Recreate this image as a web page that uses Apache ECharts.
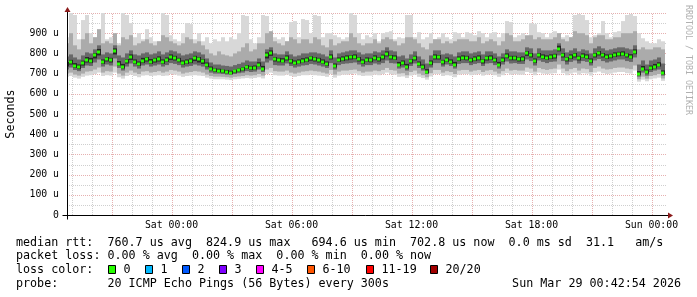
<!DOCTYPE html>
<html><head><meta charset="utf-8">
<script src="https://cdn.jsdelivr.net/npm/echarts@6/dist/echarts.min.js"></script>
<style>html,body{margin:0;padding:0;background:#fff}#c{width:697px;height:297px}</style>
</head><body><div id="c"></div>
<script>
// time axis: hours relative to Sat 00:00; buckets of 12 minutes starting Fri 18:40
const START_HOUR = -5 - 20 / 60;
const STEP_HOURS = 0.2;

const medianRtt = [
745,755,738,732,752,768,764,790,808,757,
770,765,811,750,734,760,781,757,748,764,
770,758,765,772,757,768,781,775,766,753,
758,762,775,770,760,742,725,717,715,712,
708,705,712,718,722,733,728,730,745,725,
790,802,770,766,764,778,760,752,758,764,
768,775,770,765,758,748,783,738,768,772,
778,780,783,770,758,768,766,778,770,782,
798,780,778,745,752,735,760,775,748,733,
710,752,782,780,756,768,758,745,772,778,
776,766,772,777,760,775,778,766,745,768,
788,776,776,770,772,800,790,762,790,783,
778,783,785,824,790,770,783,790,775,788,
783,762,790,800,790,783,786,792,796,798,
790,784,808,700,725,708,728,735,745,703];

const maxRtt = [
880,1000,990,870,965,990,900,880,900,1000,
870,880,860,850,1000,990,950,880,900,870,
920,880,860,860,1000,990,890,870,860,900,
950,945,870,900,860,880,850,870,860,880,
860,880,870,900,990,985,870,850,880,990,
985,900,880,870,880,860,955,960,880,970,
965,900,990,985,880,900,900,890,880,870,
880,1000,990,900,870,890,880,900,860,900,
905,910,870,880,875,990,990,880,905,870,
880,900,870,880,900,880,870,905,900,880,
905,900,890,910,900,880,900,905,880,900,
960,955,880,890,900,880,950,945,905,900,
880,900,910,900,880,890,880,990,995,990,
965,880,890,900,960,900,880,905,910,960,
990,995,985,900,875,860,850,850,870,860];

const p90Rtt = [
850,900,840,820,870,900,850,880,920,850,
860,850,900,840,880,870,890,840,850,860,
870,850,840,860,890,880,860,850,840,850,
880,870,850,860,840,820,800,790,810,795,
790,785,800,810,830,850,810,820,850,850,
900,910,860,850,840,860,880,870,850,870,
870,850,880,870,840,830,870,840,850,860,
860,900,880,850,840,850,850,870,850,870,
880,870,860,840,850,880,880,870,850,830,
820,850,870,870,850,860,850,860,870,870,
870,860,860,880,850,860,870,860,840,860,
900,890,860,860,870,890,890,870,880,870,
870,870,880,900,870,860,880,910,900,900,
890,850,880,890,890,870,870,880,880,900,
900,900,910,820,830,820,820,830,830,820];

const p75Rtt = [
785,795,780,770,790,805,800,820,840,795,
805,800,840,790,780,800,815,795,790,800,
805,795,800,810,795,805,815,810,800,790,
795,800,810,805,795,775,755,745,745,740,
738,735,742,748,755,765,760,760,775,760,
820,830,800,795,795,810,795,785,790,800,
800,805,805,800,795,785,815,780,800,805,
810,815,815,805,795,800,800,810,805,815,
830,815,810,785,790,775,795,810,785,770,
750,790,815,815,795,800,795,785,805,810,
810,800,805,810,795,810,810,800,785,800,
820,810,810,805,805,830,825,800,825,815,
815,815,820,850,825,805,815,825,810,820,
815,800,825,835,825,815,820,825,830,830,
825,820,840,745,765,745,765,770,780,750];

const p60Rtt = [
758,768,752,745,764,782,778,802,822,770,
782,778,825,762,748,772,795,770,760,778,
782,772,778,785,770,780,795,788,778,765,
770,775,788,782,772,755,735,726,724,720,
718,714,720,726,732,742,738,740,756,738,
805,815,782,778,776,790,772,765,770,776,
780,786,782,778,770,760,795,750,780,785,
790,792,795,782,770,780,778,790,782,794,
810,792,790,758,765,748,772,788,760,745,
722,765,795,792,768,780,770,758,785,790,
788,778,785,790,772,788,790,778,758,780,
800,788,788,782,785,812,802,775,802,795,
790,795,798,838,802,782,795,802,788,800,
795,775,802,812,802,795,798,805,808,810,
800,796,820,712,738,720,740,748,756,716];

const p40Rtt = [
735,745,728,722,740,755,752,775,790,748,
760,755,795,740,725,750,768,748,738,752,
760,748,755,760,748,758,768,765,756,744,
748,752,762,755,748,732,715,708,706,704,
700,698,704,710,714,724,718,720,735,716,
775,788,760,756,755,765,750,744,750,755,
758,764,760,755,748,738,770,730,758,762,
766,770,772,760,748,758,756,766,760,770,
785,770,768,736,742,725,750,765,738,724,
702,742,770,770,746,758,748,735,762,768,
766,756,762,766,750,765,768,756,736,758,
776,766,766,760,762,788,780,752,780,772,
768,772,775,810,780,760,772,780,765,778,
772,752,780,790,780,772,776,782,786,788,
780,774,796,692,716,700,718,725,735,696];

const p25Rtt = [
720,730,718,712,728,740,738,755,770,735,
745,740,775,728,715,735,750,735,725,740,
745,735,740,745,735,742,752,748,742,730,
735,738,745,740,735,720,705,700,700,698,
695,693,698,702,705,712,708,710,720,708,
755,765,742,740,740,750,738,730,735,740,
742,748,745,740,735,728,752,720,742,748,
750,752,755,745,735,742,742,750,745,752,
765,752,750,725,730,715,738,750,728,715,
698,730,752,752,735,745,738,725,748,752,
752,742,748,752,738,750,752,742,725,745,
760,750,752,748,748,770,762,740,765,758,
752,758,760,790,762,745,758,765,750,762,
758,740,765,772,762,755,760,765,770,770,
762,758,780,685,705,690,708,715,720,690];

const p10Rtt = [
700,705,695,690,700,710,712,720,730,705,
712,710,735,700,690,705,715,705,698,710,
712,705,708,712,705,710,718,715,710,700,
705,708,712,710,705,695,688,685,685,684,
682,680,684,686,688,692,690,692,698,690,
720,728,712,710,710,715,705,700,705,710,
712,715,712,710,705,700,718,695,710,715,
715,718,720,712,705,710,710,715,712,718,
728,718,715,700,702,692,708,715,700,692,
682,702,718,718,705,712,708,698,715,718,
718,710,715,718,708,715,718,710,700,712,
725,715,718,715,715,730,725,710,728,722,
718,722,725,745,725,712,722,728,715,725,
722,708,728,735,725,720,722,728,730,730,
725,722,740,672,685,675,688,692,698,676];

const minRtt = [
685,688,680,675,684,690,692,698,705,688,
692,690,705,682,675,688,695,688,682,690,
692,688,690,692,688,690,698,695,690,684,
688,690,692,690,688,680,675,672,672,672,
670,668,672,674,676,678,676,678,682,676,
698,705,692,690,690,695,688,684,688,692,
692,695,692,690,688,684,698,680,690,695,
695,698,700,692,688,690,690,695,692,698,
705,698,695,684,686,678,690,695,684,678,
670,686,698,698,688,692,690,682,695,698,
698,692,695,698,690,695,698,692,684,692,
702,695,698,695,695,708,702,692,705,700,
698,700,702,720,702,692,700,705,695,702,
700,690,705,710,702,698,700,705,708,708,
702,700,715,660,670,662,672,676,680,664];

const timeTicks = [0, 6, 12, 18, 24];
const timeLabels = ['Sat 00:00', 'Sat 06:00', 'Sat 12:00', 'Sat 18:00', 'Sun 00:00'];
const majorHours = [-3, 0, 3, 6, 9, 12, 15, 18, 21, 24];
const minorHours = [-5, -4, -2, -1, 1, 2, 4, 5, 7, 8, 10, 11, 13, 14, 16, 17, 19, 20, 22, 23];
const majorValues = [100, 200, 300, 400, 500, 600, 700, 800, 900, 1000];
const minorValues = [50, 150, 250, 350, 450, 550, 650, 750, 850, 950];

const lossLabels = ['0', '1', '2', '3', '4-5', '6-10', '11-19', '20/20'];
const lossColors = ['#26ff00', '#00b8ff', '#0059ff', '#7e00ff', '#ff00ff', '#ff5500', '#ff0000', '#a10000'];

const legendLines = [
  'median rtt:  760.7 us avg  824.9 us max   694.6 us min  702.8 us now  0.0 ms sd  31.1   am/s',
  'packet loss: 0.00 % avg  0.00 % max  0.00 % min  0.00 % now',
  'loss color:',
  'probe:       20 ICMP Echo Pings (56 Bytes) every 300s'
];
const stampText = 'Sun Mar 29 00:42:54 2026';

const MONO = "'DejaVu Sans Mono', monospace";
const X_MIN = -5.225, X_MAX = 24.775;

const chart = echarts.init(document.getElementById('c'), null, {renderer: 'canvas'});

function clipTo(params, shape) {
  const cs = params.coordSys;
  return echarts.graphic.clipRectByRect(shape, {x: cs.x, y: cs.y, width: cs.width, height: cs.height});
}

function bandSeries(lo, hi, color) {
  return {
    type: 'custom', z: 3, silent: true,
    encode: {x: 0, y: 1},
    data: lo.map((v, i) => [START_HOUR + i * STEP_HOURS, v, hi[i]]),
    renderItem: function (params, api) {
      const t = api.value(0);
      const a = api.coord([t, api.value(2)]);
      const b = api.coord([t + STEP_HOURS, api.value(1)]);
      const x0 = Math.round(a[0]), x1 = Math.round(b[0]);
      const shape = clipTo(params, {x: x0, y: a[1], width: x1 - x0, height: b[1] - a[1]});
      if (!shape) return;
      return {type: 'rect', shape: shape, style: {fill: color}};
    }
  };
}

function medianSeries() {
  return {
    type: 'custom', z: 4, silent: true,
    encode: {x: 0, y: 1},
    data: medianRtt.map((v, i) => [START_HOUR + i * STEP_HOURS, v]),
    renderItem: function (params, api) {
      const t = api.value(0);
      const a = api.coord([t, api.value(1)]);
      const b = api.coord([t + STEP_HOURS, api.value(1)]);
      const x0 = Math.round(a[0]), x1 = Math.round(b[0]);
      const shape = clipTo(params, {x: x0, y: Math.round(a[1]) - 1.5, width: x1 - x0 - 1, height: 3});
      if (!shape) return;
      return {type: 'rect', shape: shape, style: {fill: lossColors[0]}};
    }
  };
}

function vGrid(hours, color) {
  return {
    type: 'custom', z: 1, silent: true,
    encode: {x: 0},
    data: hours.map(h => [h]),
    renderItem: function (params, api) {
      const p0 = api.coord([api.value(0), 0]);
      const p1 = api.coord([api.value(0), 1000]);
      const x = Math.round(p0[0]) + 0.5;
      return {type: 'line', shape: {x1: x, y1: p0[1], x2: x, y2: p1[1]},
        style: {stroke: color, lineWidth: 1, lineDash: [1, 1]}};
    }
  };
}

function hGrid(values, color) {
  return {
    type: 'custom', z: 1, silent: true,
    encode: {y: 0},
    data: values.map(v => [v]),
    renderItem: function (params, api) {
      const p0 = api.coord([X_MIN, api.value(0)]);
      const p1 = api.coord([X_MAX, api.value(0)]);
      const y = Math.round(p0[1]) + 0.5;
      return {type: 'line', shape: {x1: p0[0], y1: y, x2: p1[0], y2: y},
        style: {stroke: color, lineWidth: 1, lineDash: [1, 1]}};
    }
  };
}

// legend graphics
const legendY = [242.5, 256.4, 270.2, 284.1];
const boxX = [108.5, 145.5, 182.5, 219.5, 256.5, 307.5, 366.5, 430.5];
const graphics = [];
legendLines.forEach((s, i) => {
  graphics.push({type: 'text', x: 16, y: legendY[i], silent: true,
    style: {text: s, font: '11.7px ' + MONO, fill: '#000', verticalAlign: 'middle'}});
});
lossLabels.forEach((lab, i) => {
  graphics.push({type: 'rect', silent: true, shape: {x: boxX[i], y: 265.5, width: 7, height: 8},
    style: {fill: lossColors[i], stroke: '#000', lineWidth: 1}});
  graphics.push({type: 'text', x: boxX[i] + 15, y: legendY[2], silent: true,
    style: {text: lab, font: '11.7px ' + MONO, fill: '#000', verticalAlign: 'middle'}});
});
graphics.push({type: 'text', x: 681, y: legendY[3], silent: true,
  style: {text: stampText, font: '11.7px ' + MONO, fill: '#000', align: 'right', verticalAlign: 'middle'}});
graphics.push({type: 'text', x: 688, y: 60, rotation: -Math.PI / 2, silent: true,
  style: {text: 'RRDTOOL / TOBI OETIKER', font: '8.3px ' + MONO, fill: '#b0b0b0', align: 'center', verticalAlign: 'middle'}});

const option = {
  animation: false,
  backgroundColor: '#ffffff',
  grid: {left: 67, right: 30, top: 13, bottom: 82, containLabel: false, outerBoundsMode: 'none'},
  xAxis: {
    type: 'value', min: X_MIN, max: X_MAX, z: 10,
    axisLine: {show: false, onZero: false},
    axisTick: {show: false},
    splitLine: {show: false},
    axisLabel: {
      show: true, customValues: timeTicks, margin: 5,
      fontFamily: MONO, fontSize: 9.8, color: '#000',
      formatter: function (v) { const k = timeTicks.indexOf(v); return k >= 0 ? timeLabels[k] : ''; }
    }
  },
  yAxis: {
    type: 'value', min: 0, max: 1000, interval: 100, z: 10,
    name: 'Seconds', nameLocation: 'middle', nameGap: 50,
    nameTextStyle: {fontFamily: MONO, fontSize: 11.7, color: '#000'},
    axisLine: {show: false, onZero: false},
    axisTick: {show: false},
    splitLine: {show: false},
    axisLabel: {
      margin: 8, fontFamily: MONO, fontSize: 9.8, color: '#000',
      formatter: function (v) { if (v === 0) return '0'; if (v >= 1000) return ''; return v + ' u'; }
    }
  },
  graphic: graphics,
  series: [
    hGrid(minorValues, '#cfcfcf'),
    vGrid(minorHours, '#cfcfcf'),
    hGrid(majorValues, '#e6b0b0'),
    vGrid(majorHours, '#e6b0b0'),
    bandSeries(minRtt, maxRtt, '#d8d8d8'),
    bandSeries(p10Rtt, p90Rtt, '#ababab'),
    bandSeries(p25Rtt, p75Rtt, '#686868'),
    bandSeries(p40Rtt, p60Rtt, '#262626'),
    medianSeries()
  ]
};
chart.setOption(option);

// axis lines and arrows (decoration) anchored via the chart's own coordinate conversion
const origin = chart.convertToPixel({gridIndex: 0}, [X_MIN, 0]);
const xEnd = chart.convertToPixel({gridIndex: 0}, [X_MAX, 0]);
const yEnd = chart.convertToPixel({gridIndex: 0}, [X_MIN, 1000]);
const ox = Math.round(origin[0]) + 0.5, oy = Math.round(origin[1]) + 0.5;
chart.setOption({graphic: graphics.concat([
  {type: 'line', silent: true, shape: {x1: ox - 5, y1: oy, x2: xEnd[0] + 2, y2: oy}, style: {stroke: '#000', lineWidth: 1}, z: 20},
  {type: 'line', silent: true, shape: {x1: ox, y1: oy + 4, x2: ox, y2: yEnd[1] - 2}, style: {stroke: '#000', lineWidth: 1}, z: 20},
  {type: 'polygon', silent: true, shape: {points: [[xEnd[0] + 1, oy - 3], [xEnd[0] + 6, oy], [xEnd[0] + 1, oy + 3]]}, style: {fill: '#8b1a1a'}, z: 20},
  {type: 'polygon', silent: true, shape: {points: [[ox - 3, yEnd[1] - 1], [ox, yEnd[1] - 6], [ox + 3, yEnd[1] - 1]]}, style: {fill: '#8b1a1a'}, z: 20}
])});
</script>
</body></html>
